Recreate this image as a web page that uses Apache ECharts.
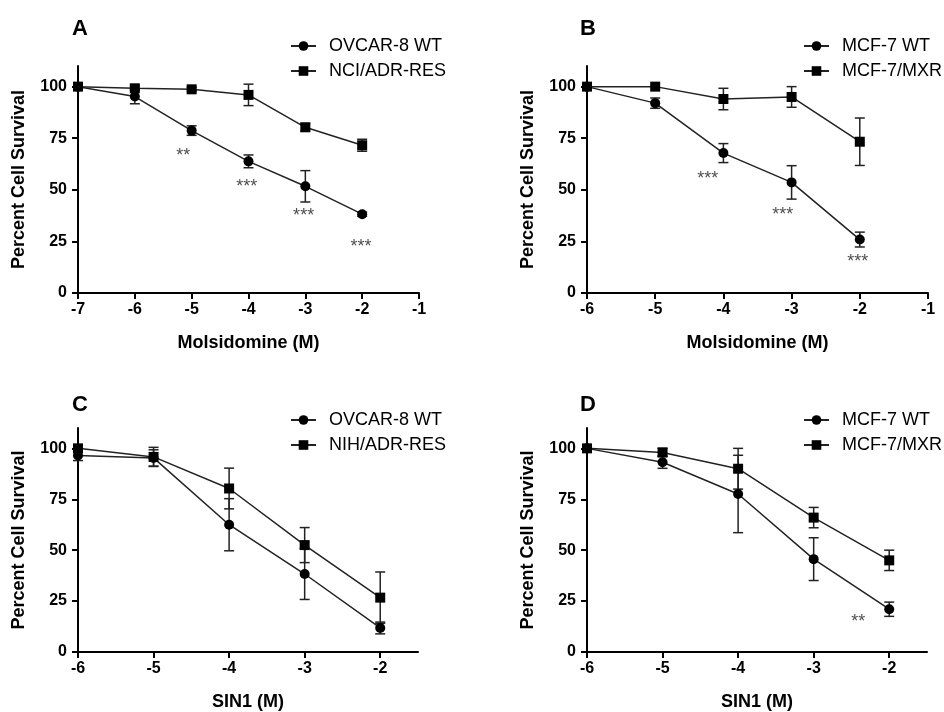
<!DOCTYPE html>
<html>
<head>
<meta charset="utf-8">
<script src="https://cdn.jsdelivr.net/npm/echarts@6/dist/echarts.min.js"></script>
<style>
  html, body { margin: 0; padding: 0; background: #fff; }
  #chart { width: 944px; height: 712px; }
</style>
</head>
<body>
<div id="chart"></div>
<script>
// data (percent cell survival, mean and SD)
const xA = [-7, -6, -5, -4, -3, -2];
const aWT = [100, 95.2, 78.7, 63.8, 51.7, 38.2];
const aWTsd = [0, 3.5, 2.3, 3.1, 7.6, 1];
const aRes = [100, 99.2, 98.7, 96, 80.3, 71.6];
const aResSd = [0, 1, 1, 5.2, 1.8, 2.9];

const xB = [-6, -5, -4, -3, -2];
const bWT = [100, 92, 67.8, 53.6, 25.9];
const bWTsd = [0, 2.5, 4.6, 8.1, 3.6];
const bRes = [100, 100, 94, 95, 73.3];
const bResSd = [0, 0, 5.2, 5, 11.5];

const xC = [-6, -5, -4, -3, -2];
const cWT = [96.5, 95.3, 62.5, 38.3, 11.8];
const cWTsd = [2.5, 4, 12.8, 12.5, 2.9];
const cRes = [100, 95.8, 80.3, 52.5, 26.7];
const cResSd = [1.5, 4.7, 10, 8.6, 12.6];

const xD = [-6, -5, -4, -3, -2];
const dWT = [100, 93.2, 77.6, 45.6, 21];
const dWTsd = [0, 3, 19, 10.5, 3.5];
const dRes = [100, 98, 90, 66, 45];
const dResSd = [0, 2, 10, 5, 5];

// significance marks [x, y, text]
const starsA = [[-5.15, 69, '**'], [-4.03, 54, '***'], [-3.03, 39.5, '***'], [-2.02, 24.5, '***']];
const starsB = [[-4.23, 57.5, '***'], [-3.13, 40, '***'], [-2.03, 17.2, '***']];
const starsD = [[-2.41, 17, '**']];

const yTicks = [0, 25, 50, 75, 100];
const xTicksC = [-6, -5, -4, -3, -2];

const FONT = '"Liberation Sans", Arial, sans-serif';

const chart = echarts.init(document.getElementById('chart'));

const grids = [
  { left: 78, top: 66, width: 341, height: 227 },
  { left: 587, top: 66, width: 341, height: 227 },
  { left: 78, top: 428, width: 340, height: 226 },
  { left: 587, top: 428, width: 340, height: 226 }
];

function xAxis(idx, min, max, name, custom) {
  const ax = {
    type: 'value', gridIndex: idx, min: min, max: max, interval: 1,
    name: name, nameLocation: 'middle', nameGap: 41,
    nameTextStyle: { fontSize: 18, fontWeight: 'bold', color: '#000', fontFamily: FONT },
    axisLine: { onZero: false, lineStyle: { color: '#000', width: 2 } },
    axisTick: { length: 6, lineStyle: { color: '#000', width: 2 } },
    axisLabel: { fontSize: 16, fontWeight: 'bold', color: '#000', fontFamily: FONT, margin: 9 },
    splitLine: { show: false }
  };
  if (custom) {
    ax.axisTick.customValues = custom;
    ax.axisLabel.customValues = custom;
  }
  return ax;
}

function yAxis(idx) {
  return {
    type: 'value', gridIndex: idx, min: 0, max: 110,
    name: 'Percent Cell Survival', nameLocation: 'middle', nameGap: 50,
    nameTextStyle: { fontSize: 18, fontWeight: 'bold', color: '#000', fontFamily: FONT },
    axisLine: { show: true, onZero: false, lineStyle: { color: '#000', width: 2 } },
    axisTick: { show: true, length: 6, customValues: yTicks, lineStyle: { color: '#000', width: 2 } },
    axisLabel: { fontSize: 16, fontWeight: 'bold', color: '#000', fontFamily: FONT, margin: 11, customValues: yTicks },
    splitLine: { show: false }
  };
}

function lineSeries(idx, name, xs, ys, symbol) {
  return {
    type: 'line', name: name, xAxisIndex: idx, yAxisIndex: idx,
    data: xs.map((x, i) => [x, ys[i]]),
    symbol: symbol, symbolSize: 10,
    lineStyle: { color: '#222', width: 1.5 },
    itemStyle: { color: '#000' },
    z: 3
  };
}

function errRender(params, api) {
  const x = api.value(0), lo = api.value(1), hi = api.value(2);
  if (hi - lo < 0.01) return null;
  const t = api.coord([x, hi]);
  const b = api.coord([x, lo]);
  const hw = 5;
  const st = { stroke: '#222', lineWidth: 1.5 };
  return {
    type: 'group',
    children: [
      { type: 'line', shape: { x1: t[0], y1: t[1], x2: b[0], y2: b[1] }, style: st },
      { type: 'line', shape: { x1: t[0] - hw, y1: t[1], x2: t[0] + hw, y2: t[1] }, style: st },
      { type: 'line', shape: { x1: b[0] - hw, y1: b[1], x2: b[0] + hw, y2: b[1] }, style: st }
    ]
  };
}

function errSeries(idx, xs, ys, sd) {
  return {
    type: 'custom', name: 'err' + idx, xAxisIndex: idx, yAxisIndex: idx,
    renderItem: errRender,
    data: xs.map((x, i) => [x, ys[i] - sd[i], ys[i] + sd[i]]),
    encode: { x: 0, y: [1, 2] },
    silent: true, z: 2
  };
}

function starSeries(idx, stars) {
  return {
    type: 'scatter', name: 'stars' + idx, xAxisIndex: idx, yAxisIndex: idx,
    data: stars, symbolSize: 0, silent: true,
    label: {
      show: true, position: 'inside', formatter: p => p.value[2],
      fontSize: 18, color: '#222', fontFamily: FONT, offset: [0, 5]
    }
  };
}

function legend(left, top, names) {
  return {
    orient: 'vertical', left: left, top: top, itemGap: 7, padding: 0,
    itemWidth: 25, itemHeight: 12,
    data: names,
    textStyle: { fontSize: 18, color: '#000', fontFamily: FONT, padding: [0, 0, 0, 8] },
    selectedMode: false
  };
}

const panelLabel = (text, x, y) => ({
  type: 'text', left: x, top: y,
  style: { text: text, fontSize: 22, fontWeight: 'bold', fill: '#000', font: 'bold 22px ' + FONT }
});

chart.setOption({
  animation: false,
  backgroundColor: '#fff',
  grid: grids,
  xAxis: [
    xAxis(0, -7, -1, 'Molsidomine (M)'),
    xAxis(1, -6, -1, 'Molsidomine (M)'),
    xAxis(2, -6, -1.5, 'SIN1 (M)', xTicksC),
    xAxis(3, -6, -1.5, 'SIN1 (M)', xTicksC)
  ],
  yAxis: [yAxis(0), yAxis(1), yAxis(2), yAxis(3)],
  legend: [
    legend(290, 37, ['OVCAR-8 WT', 'NCI/ADR-RES']),
    legend(803, 37, ['MCF-7 WT', 'MCF-7/MXR']),
    legend(290, 411, ['OVCAR-8 WT', 'NIH/ADR-RES']),
    legend(803, 411, ['MCF-7 WT', 'MCF-7/MXR'])
  ],
  graphic: [
    panelLabel('A', 72, 18),
    panelLabel('B', 580, 18),
    panelLabel('C', 72, 394),
    panelLabel('D', 580, 394)
  ],
  series: [
    errSeries(0, xA, aWT, aWTsd),
    errSeries(0, xA, aRes, aResSd),
    lineSeries(0, 'OVCAR-8 WT', xA, aWT, 'circle'),
    lineSeries(0, 'NCI/ADR-RES', xA, aRes, 'rect'),
    starSeries(0, starsA),

    errSeries(1, xB, bWT, bWTsd),
    errSeries(1, xB, bRes, bResSd),
    lineSeries(1, 'MCF-7 WT', xB, bWT, 'circle'),
    lineSeries(1, 'MCF-7/MXR', xB, bRes, 'rect'),
    starSeries(1, starsB),

    errSeries(2, xC, cWT, cWTsd),
    errSeries(2, xC, cRes, cResSd),
    lineSeries(2, 'OVCAR-8 WT', xC, cWT, 'circle'),
    lineSeries(2, 'NIH/ADR-RES', xC, cRes, 'rect'),

    errSeries(3, xD, dWT, dWTsd),
    errSeries(3, xD, dRes, dResSd),
    lineSeries(3, 'MCF-7 WT', xD, dWT, 'circle'),
    lineSeries(3, 'MCF-7/MXR', xD, dRes, 'rect'),
    starSeries(3, starsD)
  ]
});
</script>
</body>
</html>
